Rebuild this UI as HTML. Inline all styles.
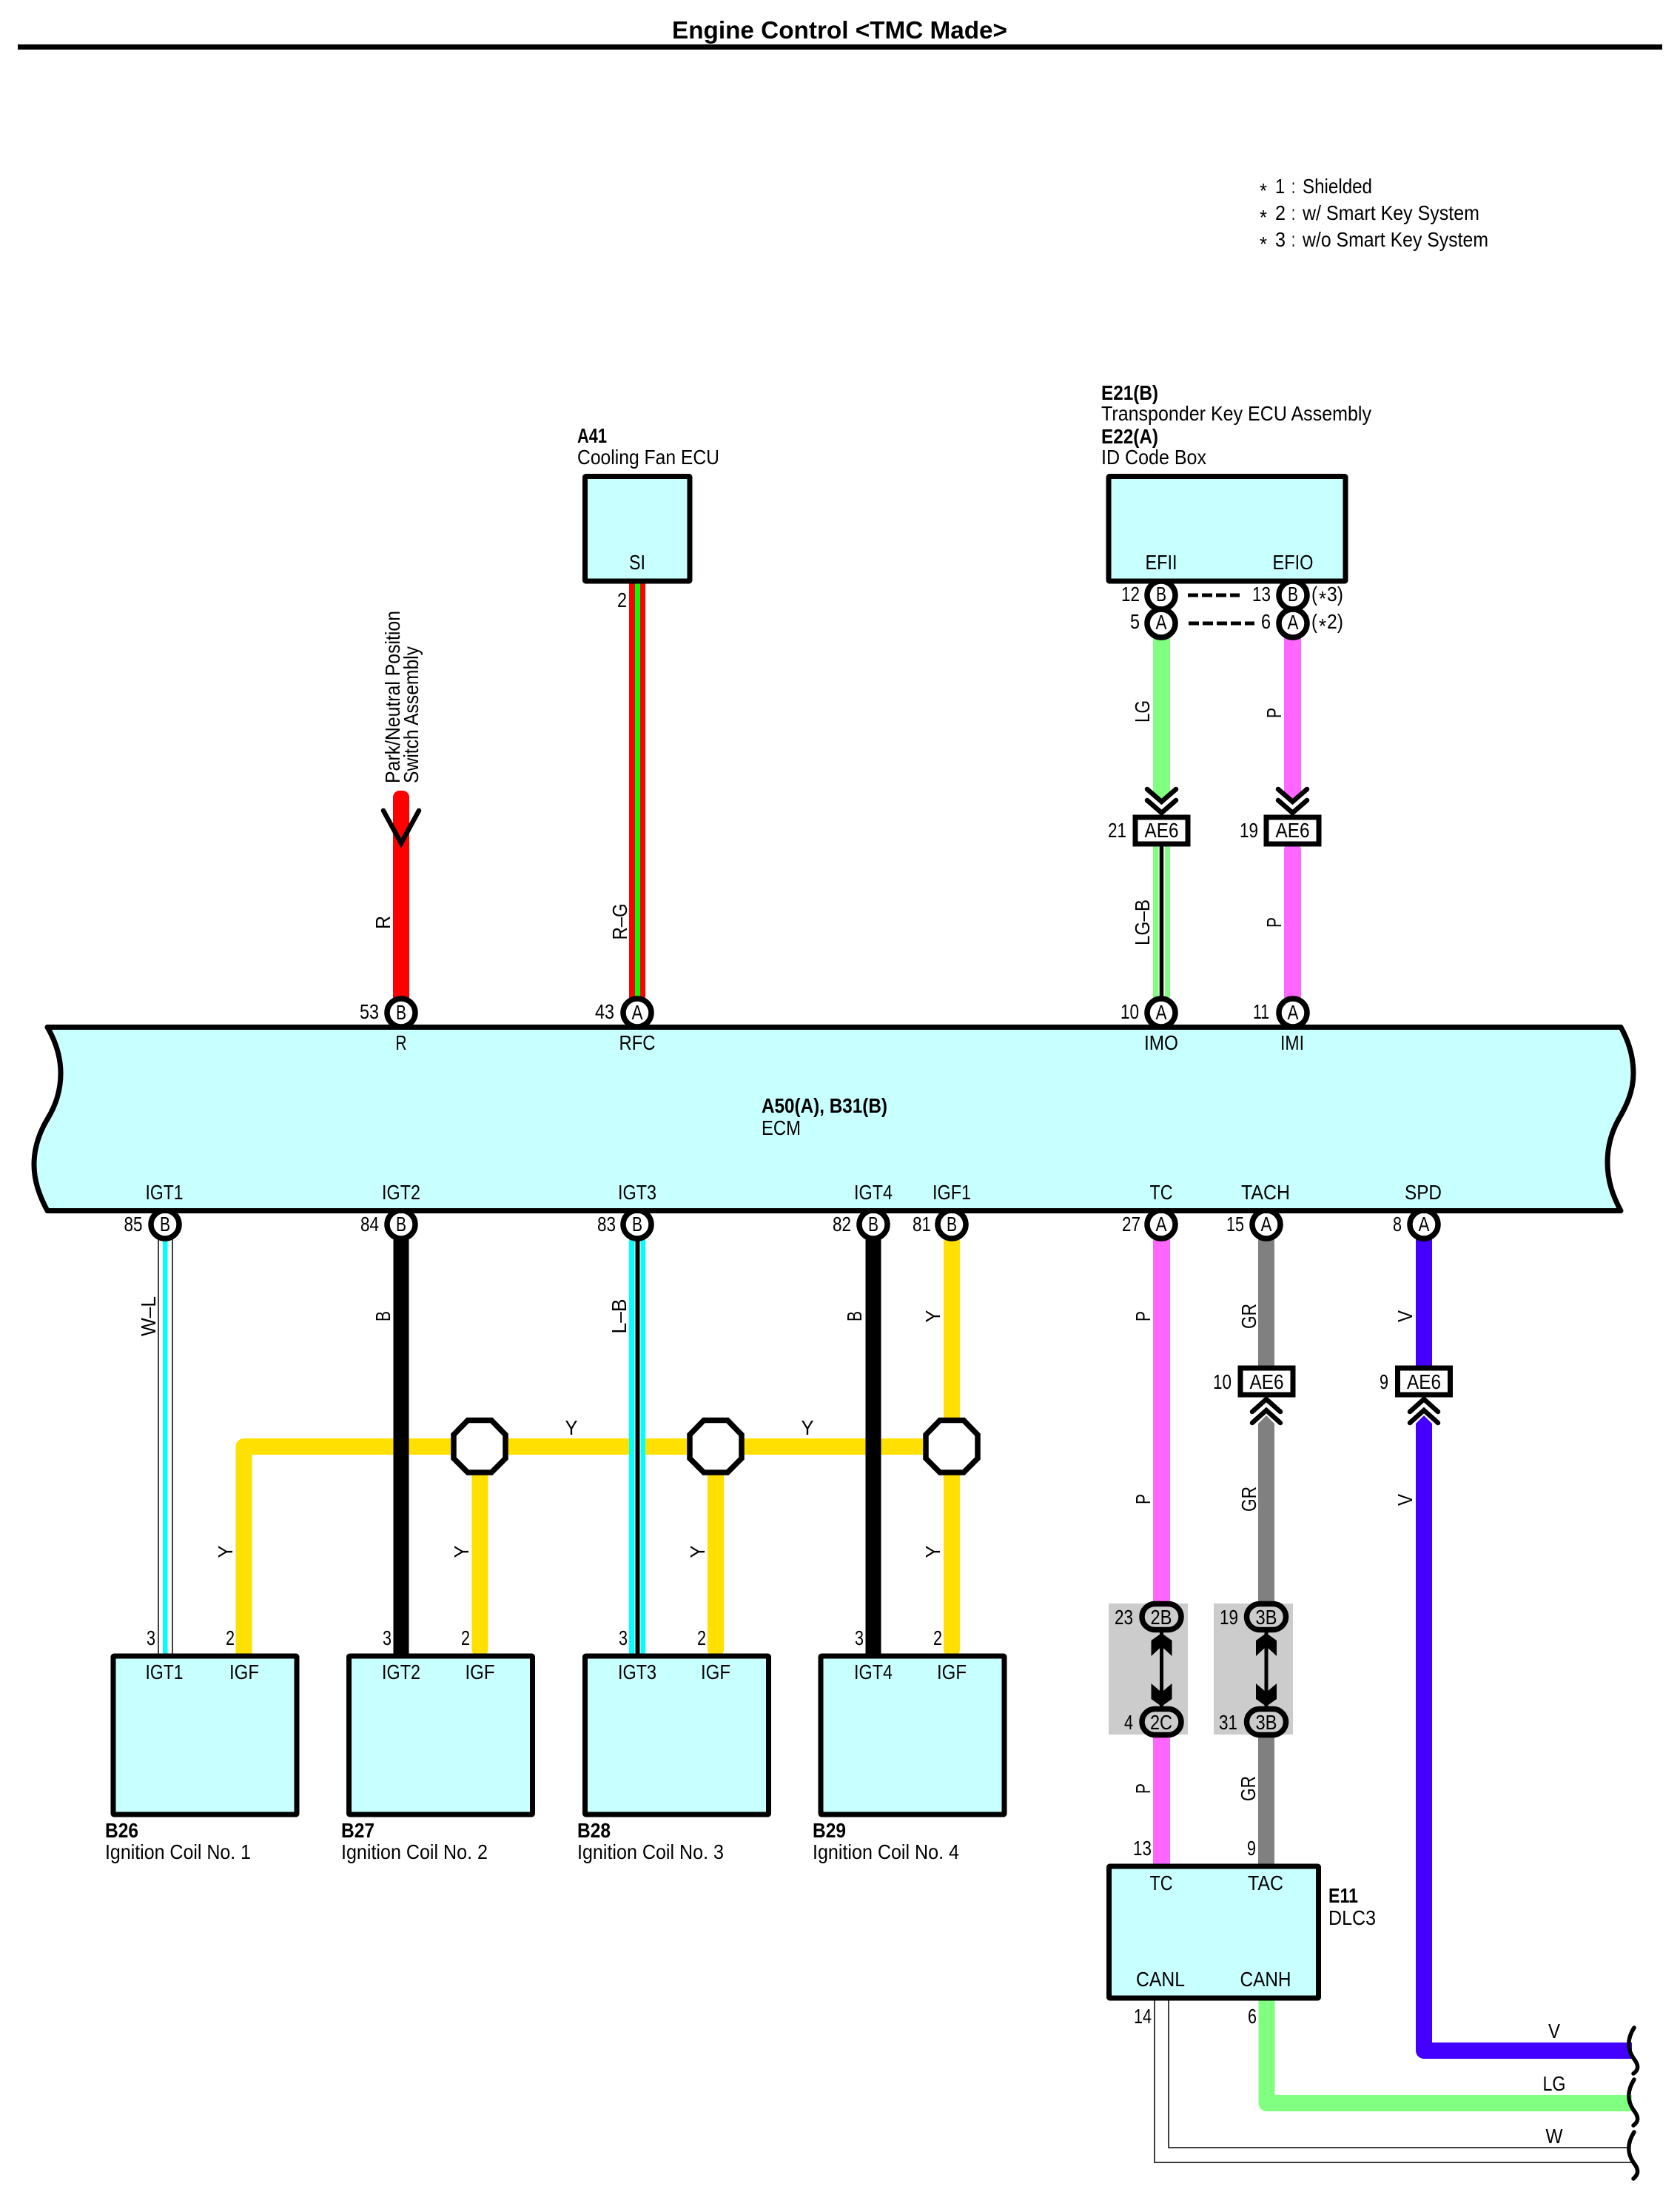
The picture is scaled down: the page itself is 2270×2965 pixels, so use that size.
<!DOCTYPE html>
<html><head><meta charset="utf-8"><title>Engine Control</title>
<style>
html,body{margin:0;padding:0;background:#fff}
svg{display:block}
text{font-family:"Liberation Sans",Arial,sans-serif;font-size:27.5px;fill:#000}
.b{font-weight:bold}
.m{text-anchor:middle}
.e{text-anchor:end}
.box{fill:#c8ffff;stroke:#000;stroke-width:7}
.c{fill:#fff;stroke:#000;stroke-width:7.5}
.w{fill:none;stroke-width:22}
.th{fill:none;stroke:#000;stroke-width:1.5}
.ch{fill:none;stroke:#000;stroke-width:6.5;stroke-linecap:round;stroke-linejoin:miter}
.sq{fill:none;stroke:#000;stroke-width:5.5;stroke-linecap:round}
</style></head><body>
<svg xmlns="http://www.w3.org/2000/svg" width="2270" height="2965" viewBox="0 0 2270 2965">
<rect width="2270" height="2965" fill="#fff"/>
<!-- title -->
<text class="b" x="908" y="52" font-size="33" style="font-size:33px" textLength="453" lengthAdjust="spacingAndGlyphs">Engine Control &lt;TMC Made&gt;</text>
<rect x="24" y="60" width="2222" height="7" fill="#000"/>
<!-- legend -->
<text x="1702" y="267" textLength="10" lengthAdjust="spacingAndGlyphs">*</text>
<text x="1723" y="261" textLength="13" lengthAdjust="spacingAndGlyphs">1</text>
<text x="1745" y="261" textLength="5" lengthAdjust="spacingAndGlyphs">:</text>
<text x="1760" y="261" textLength="94" lengthAdjust="spacingAndGlyphs">Shielded</text>
<text x="1702" y="303" textLength="10" lengthAdjust="spacingAndGlyphs">*</text>
<text x="1723" y="297" textLength="14" lengthAdjust="spacingAndGlyphs">2</text>
<text x="1745" y="297" textLength="5" lengthAdjust="spacingAndGlyphs">:</text>
<text x="1760" y="297" textLength="239" lengthAdjust="spacingAndGlyphs">w/ Smart Key System</text>
<text x="1702" y="339" textLength="10" lengthAdjust="spacingAndGlyphs">*</text>
<text x="1723" y="333" textLength="14" lengthAdjust="spacingAndGlyphs">3</text>
<text x="1745" y="333" textLength="5" lengthAdjust="spacingAndGlyphs">:</text>
<text x="1760" y="333" textLength="251" lengthAdjust="spacingAndGlyphs">w/o Smart Key System</text>

<!-- WIRES upper -->
<rect x="531" y="1068" width="22" height="290" rx="9" fill="#ff0000"/>
<rect x="850" y="788" width="22" height="570" fill="#ff0000"/>
<rect x="858" y="788" width="7" height="570" fill="#00ff00"/>
<polygon points="1558,860 1581,860 1581,1072 1569.5,1083 1558,1072" fill="#80ff80"/>
<polygon points="1735,860 1758,860 1758,1072 1746.5,1083 1735,1072" fill="#ff66ff"/>
<rect x="1558" y="1140" width="23" height="220" fill="#80ff80"/>
<rect x="1565.5" y="1140" width="8.5" height="220" fill="#fff"/>
<rect x="1566.7" y="1140" width="5.5" height="220" fill="#000"/>
<rect x="1735" y="1140" width="23" height="225" rx="8" fill="#ff66ff"/>
<!-- WIRES lower -->
<path class="w" d="M329.5 2236V1954H1260" stroke="#ffe000" style="stroke-width:22;stroke-linejoin:round"/>
<rect x="637.5" y="1985" width="22" height="250" rx="6" fill="#ffe000"/>
<rect x="956" y="1985" width="22" height="250" rx="6" fill="#ffe000"/>
<rect x="1275" y="1660" width="22" height="575" rx="6" fill="#ffe000"/>
<line class="th" x1="214" y1="1668" x2="214" y2="2236"/>
<line class="th" x1="233" y1="1668" x2="233" y2="2236"/>
<rect x="220" y="1668" width="6.5" height="568" fill="#00ffff"/>
<rect x="531.5" y="1668" width="21" height="568" fill="#000"/>
<rect x="850" y="1668" width="22" height="568" fill="#00ffff"/>
<rect x="857.5" y="1668" width="8" height="568" fill="#fff"/>
<rect x="858.5" y="1668" width="6" height="568" fill="#000"/>
<rect x="1169.5" y="1668" width="21" height="568" fill="#000"/>
<rect x="1558" y="1668" width="23" height="500" fill="#ff66ff"/>
<rect x="1558" y="2340" width="23" height="180" fill="#ff66ff"/>
<rect x="1700" y="1668" width="22" height="180" fill="#808080"/>
<polygon points="1711,1912 1722,1923 1722,2168 1700,2168 1700,1923" fill="#808080"/>
<rect x="1700" y="2340" width="22" height="180" fill="#808080"/>
<rect x="1913" y="1668" width="22" height="180" fill="#4400ff"/>
<path d="M1924 1923V2770H2205" fill="none" stroke="#4400ff" stroke-width="22" stroke-linejoin="round"/>
<polygon points="1924,1912 1935,1923 1913,1923" fill="#4400ff"/>
<path d="M1711.5 2700V2841H2205" fill="none" stroke="#80ff80" stroke-width="22" stroke-linejoin="round"/>
<path class="th" d="M1560 2702V2921H2208"/>
<path class="th" d="M1579 2702V2901H2198"/>
<!-- squiggles -->
<path class="sq" d="M2208 2739C2198 2755 2199 2768 2207 2780C2215 2790 2214 2796 2207 2801"/>
<path class="sq" d="M2208 2809C2198 2825 2199 2838 2207 2850C2215 2860 2214 2866 2207 2871"/>
<path class="sq" d="M2208 2880C2198 2896 2199 2909 2207 2921C2215 2931 2214 2937 2207 2943"/>

<!-- chevrons -->
<path class="ch" d="M518 1095L542 1139L566 1095"/>
<path class="ch" d="M1550 1066L1569.5 1083L1589 1066M1550 1081L1569.5 1098L1589 1081"/>
<path class="ch" d="M1727 1066L1746.5 1083L1766 1066M1727 1081L1746.5 1098L1766 1081"/>
<path class="ch" d="M1692 1907L1711 1890L1730 1907M1692 1922L1711 1905L1730 1922"/>
<path class="ch" d="M1905 1907L1924 1890L1943 1907M1905 1922L1924 1905L1943 1922"/>

<!-- circles upper -->
<circle class="c" cx="542" cy="1368" r="19"/>
<circle class="c" cx="861" cy="1368" r="19"/>
<circle class="c" cx="1569" cy="1368" r="19"/>
<circle class="c" cx="1747" cy="1368" r="19"/>
<circle class="c" cx="1569" cy="804" r="19"/>
<circle class="c" cx="1569" cy="842" r="19"/>
<circle class="c" cx="1747" cy="804" r="19"/>
<circle class="c" cx="1747" cy="842" r="19"/>
<!-- circles lower -->
<circle class="c" cx="223" cy="1654" r="19"/>
<circle class="c" cx="542" cy="1654" r="19"/>
<circle class="c" cx="861" cy="1654" r="19"/>
<circle class="c" cx="1180" cy="1654" r="19"/>
<circle class="c" cx="1286" cy="1654" r="19"/>
<circle class="c" cx="1569" cy="1654" r="19"/>
<circle class="c" cx="1711" cy="1654" r="19"/>
<circle class="c" cx="1924" cy="1654" r="19"/>

<!-- ECM -->
<path class="box" d="M64 1387.5H2190C2201 1407 2207 1428 2207 1450C2207 1475 2197 1495 2187 1512C2177 1530 2172 1550 2172 1570C2172 1595 2179 1615 2190 1635.5H64C53 1615 46 1595 46 1573C46 1550 54 1528 65 1510C74 1495 82 1475 82 1450C82 1430 76 1408 64 1387.5Z" style="stroke-linejoin:round"/>

<!-- component boxes -->
<rect class="box" x="790.5" y="643.5" width="141.5" height="141.5" rx="1"/>
<rect class="box" x="1498" y="643.5" width="320" height="141.5" rx="1"/>
<rect class="box" x="1498.5" y="2521" width="283" height="178" rx="1"/>
<rect class="box" x="153" y="2237" width="248" height="214" rx="1"/>
<rect class="box" x="471.5" y="2237" width="248" height="214" rx="1"/>
<rect class="box" x="790.5" y="2237" width="248" height="214" rx="1"/>
<rect class="box" x="1109" y="2237" width="248" height="214" rx="1"/>

<!-- octagons -->
<polygon class="c" points="632,1918.5 664,1918.5 683,1938 683,1970 664,1989 632,1989 613,1970 613,1938"/>
<polygon class="c" points="951,1918.5 983,1918.5 1002,1938 1002,1970 983,1989 951,1989 932,1970 932,1938"/>
<polygon class="c" points="1270,1918.5 1302,1918.5 1321,1938 1321,1970 1302,1989 1270,1989 1251,1970 1251,1938"/>

<!-- AE6 -->
<g fill="#fff" stroke="#000" stroke-width="7">
<rect x="1534" y="1104" width="71" height="36"/>
<rect x="1711" y="1104" width="71" height="36"/>
<rect x="1676" y="1848" width="71" height="36"/>
<rect x="1888.5" y="1848" width="71" height="36"/>
</g>

<!-- gray splice -->
<rect x="1498" y="2166" width="107" height="177" fill="#cccccc"/>
<rect x="1640" y="2166" width="107" height="177" fill="#cccccc"/>
<g fill="#cccccc" stroke="#000" stroke-width="7.5">
<rect x="1543" y="2166.5" width="53" height="35" rx="17.5"/>
<rect x="1543" y="2308.5" width="53" height="35" rx="17.5"/>
<rect x="1684.5" y="2166.5" width="53" height="35" rx="17.5"/>
<rect x="1684.5" y="2308.5" width="53" height="35" rx="17.5"/>
</g>
<g fill="#000">
<rect x="1567" y="2205" width="5" height="100"/>
<polygon points="1569.5,2206 1583.5,2216 1583.5,2237 1569.5,2224 1555.5,2237 1555.5,2216"/>
<polygon points="1569.5,2305 1583.5,2295 1583.5,2274 1569.5,2286 1555.5,2274 1555.5,2295"/>
<rect x="1708.5" y="2205" width="5" height="100"/>
<polygon points="1711,2206 1725,2216 1725,2237 1711,2224 1697,2237 1697,2216"/>
<polygon points="1711,2305 1725,2295 1725,2274 1711,2286 1697,2274 1697,2295"/>
</g>
<!-- dashed -->
<line x1="1605" y1="804" x2="1675" y2="804" stroke="#000" stroke-width="5" stroke-dasharray="14 5"/>
<line x1="1606" y1="842" x2="1695" y2="842" stroke="#000" stroke-width="5" stroke-dasharray="14 5"/>

<!-- TEXT: component labels -->
<text class="b" x="780" y="598" textLength="40" lengthAdjust="spacingAndGlyphs">A41</text>
<text x="780" y="627" textLength="192" lengthAdjust="spacingAndGlyphs">Cooling Fan ECU</text>
<text class="m" x="861" y="769" textLength="22" lengthAdjust="spacingAndGlyphs">SI</text>
<text class="e" x="847" y="820" textLength="13" lengthAdjust="spacingAndGlyphs">2</text>
<text class="b" x="1488" y="540" textLength="77" lengthAdjust="spacingAndGlyphs">E21(B)</text>
<text x="1488" y="568" textLength="365" lengthAdjust="spacingAndGlyphs">Transponder Key ECU Assembly</text>
<text class="b" x="1488" y="599" textLength="77" lengthAdjust="spacingAndGlyphs">E22(A)</text>
<text x="1488" y="627" textLength="142" lengthAdjust="spacingAndGlyphs">ID Code Box</text>
<text class="m" x="1569" y="769" textLength="43" lengthAdjust="spacingAndGlyphs">EFII</text>
<text class="m" x="1747" y="769" textLength="55" lengthAdjust="spacingAndGlyphs">EFIO</text>
<text class="m" x="1569" y="812" textLength="14" lengthAdjust="spacingAndGlyphs">B</text>
<text class="m" x="1569" y="850" textLength="15" lengthAdjust="spacingAndGlyphs">A</text>
<text class="m" x="1747" y="812" textLength="14" lengthAdjust="spacingAndGlyphs">B</text>
<text class="m" x="1747" y="850" textLength="15" lengthAdjust="spacingAndGlyphs">A</text>
<text class="e" x="1540" y="812" textLength="25" lengthAdjust="spacingAndGlyphs">12</text>
<text class="e" x="1540" y="849" textLength="13" lengthAdjust="spacingAndGlyphs">5</text>
<text class="e" x="1717" y="812" textLength="25" lengthAdjust="spacingAndGlyphs">13</text>
<text class="e" x="1717" y="849" textLength="13" lengthAdjust="spacingAndGlyphs">6</text>
<text x="1772" y="812" textLength="8" lengthAdjust="spacingAndGlyphs">(</text>
<text x="1782" y="818" textLength="10" lengthAdjust="spacingAndGlyphs">*</text>
<text x="1793" y="812" textLength="22" lengthAdjust="spacingAndGlyphs">3)</text>
<text x="1772" y="849" textLength="8" lengthAdjust="spacingAndGlyphs">(</text>
<text x="1782" y="855" textLength="10" lengthAdjust="spacingAndGlyphs">*</text>
<text x="1793" y="849" textLength="22" lengthAdjust="spacingAndGlyphs">2)</text>

<!-- vertical -->
<text transform="translate(540,1058) rotate(-90)" textLength="233" lengthAdjust="spacingAndGlyphs">Park/Neutral Position</text>
<text transform="translate(565,1058) rotate(-90)" textLength="185" lengthAdjust="spacingAndGlyphs">Switch Assembly</text>
<text class="m" transform="translate(527,1246) rotate(-90)" textLength="18" lengthAdjust="spacingAndGlyphs">R</text>
<text class="m" transform="translate(847,1245) rotate(-90)" textLength="49" lengthAdjust="spacingAndGlyphs">R–G</text>
<text class="m" transform="translate(1553,961) rotate(-90)" textLength="30" lengthAdjust="spacingAndGlyphs">LG</text>
<text class="m" transform="translate(1731,963) rotate(-90)" textLength="14" lengthAdjust="spacingAndGlyphs">P</text>
<text class="m" transform="translate(1553,1246) rotate(-90)" textLength="62" lengthAdjust="spacingAndGlyphs">LG–B</text>
<text class="m" transform="translate(1731,1246) rotate(-90)" textLength="14" lengthAdjust="spacingAndGlyphs">P</text>

<text class="m" transform="translate(210,1778) rotate(-90)" textLength="54" lengthAdjust="spacingAndGlyphs">W–L</text>
<text class="m" transform="translate(527,1778) rotate(-90)" textLength="14" lengthAdjust="spacingAndGlyphs">B</text>
<text class="m" transform="translate(846,1778) rotate(-90)" textLength="47" lengthAdjust="spacingAndGlyphs">L–B</text>
<text class="m" transform="translate(1164,1778) rotate(-90)" textLength="14" lengthAdjust="spacingAndGlyphs">B</text>
<text class="m" transform="translate(1270,1778) rotate(-90)" textLength="17" lengthAdjust="spacingAndGlyphs">Y</text>
<text class="m" transform="translate(1554,1778) rotate(-90)" textLength="14" lengthAdjust="spacingAndGlyphs">P</text>
<text class="m" transform="translate(1697,1778) rotate(-90)" textLength="34" lengthAdjust="spacingAndGlyphs">GR</text>
<text class="m" transform="translate(1908,1778) rotate(-90)" textLength="16" lengthAdjust="spacingAndGlyphs">V</text>
<text class="m" transform="translate(1554,2025) rotate(-90)" textLength="14" lengthAdjust="spacingAndGlyphs">P</text>
<text class="m" transform="translate(1697,2025) rotate(-90)" textLength="34" lengthAdjust="spacingAndGlyphs">GR</text>
<text class="m" transform="translate(1908,2026) rotate(-90)" textLength="16" lengthAdjust="spacingAndGlyphs">V</text>
<text class="m" transform="translate(314,2096) rotate(-90)" textLength="17" lengthAdjust="spacingAndGlyphs">Y</text>
<text class="m" transform="translate(633,2096) rotate(-90)" textLength="17" lengthAdjust="spacingAndGlyphs">Y</text>
<text class="m" transform="translate(952,2096) rotate(-90)" textLength="17" lengthAdjust="spacingAndGlyphs">Y</text>
<text class="m" transform="translate(1270,2096) rotate(-90)" textLength="17" lengthAdjust="spacingAndGlyphs">Y</text>
<text class="m" transform="translate(1554,2416) rotate(-90)" textLength="14" lengthAdjust="spacingAndGlyphs">P</text>
<text class="m" transform="translate(1696,2416) rotate(-90)" textLength="34" lengthAdjust="spacingAndGlyphs">GR</text>

<text class="m" x="772" y="1938" textLength="17" lengthAdjust="spacingAndGlyphs">Y</text>
<text class="m" x="1091" y="1938" textLength="17" lengthAdjust="spacingAndGlyphs">Y</text>

<!-- ECM top pins -->
<text class="e" x="512" y="1376" textLength="26" lengthAdjust="spacingAndGlyphs">53</text>
<text class="m" x="542" y="1377" textLength="14" lengthAdjust="spacingAndGlyphs">B</text>
<text class="m" x="542" y="1418" textLength="15" lengthAdjust="spacingAndGlyphs">R</text>
<text class="e" x="830" y="1376" textLength="26" lengthAdjust="spacingAndGlyphs">43</text>
<text class="m" x="861" y="1377" textLength="15" lengthAdjust="spacingAndGlyphs">A</text>
<text class="m" x="861" y="1418" textLength="49" lengthAdjust="spacingAndGlyphs">RFC</text>
<text class="e" x="1539" y="1376" textLength="25" lengthAdjust="spacingAndGlyphs">10</text>
<text class="m" x="1569" y="1377" textLength="15" lengthAdjust="spacingAndGlyphs">A</text>
<text class="m" x="1569" y="1418" textLength="46" lengthAdjust="spacingAndGlyphs">IMO</text>
<text class="e" x="1715" y="1376" textLength="22" lengthAdjust="spacingAndGlyphs">11</text>
<text class="m" x="1747" y="1377" textLength="15" lengthAdjust="spacingAndGlyphs">A</text>
<text class="m" x="1746" y="1418" textLength="32" lengthAdjust="spacingAndGlyphs">IMI</text>
<text class="b" x="1029" y="1503" textLength="170" lengthAdjust="spacingAndGlyphs">A50(A), B31(B)</text>
<text x="1029" y="1533" textLength="53" lengthAdjust="spacingAndGlyphs">ECM</text>

<!-- ECM bottom pins -->
<text class="m" x="222" y="1620" textLength="51" lengthAdjust="spacingAndGlyphs">IGT1</text>
<text class="m" x="542" y="1620" textLength="52" lengthAdjust="spacingAndGlyphs">IGT2</text>
<text class="m" x="861" y="1620" textLength="52" lengthAdjust="spacingAndGlyphs">IGT3</text>
<text class="m" x="1180" y="1620" textLength="52" lengthAdjust="spacingAndGlyphs">IGT4</text>
<text class="m" x="1286" y="1620" textLength="52" lengthAdjust="spacingAndGlyphs">IGF1</text>
<text class="m" x="1569" y="1620" textLength="31" lengthAdjust="spacingAndGlyphs">TC</text>
<text class="m" x="1710" y="1620" textLength="66" lengthAdjust="spacingAndGlyphs">TACH</text>
<text class="m" x="1923" y="1620" textLength="50" lengthAdjust="spacingAndGlyphs">SPD</text>
<text class="e" x="192.5" y="1663" textLength="25" lengthAdjust="spacingAndGlyphs">85</text>
<text class="e" x="512" y="1663" textLength="25" lengthAdjust="spacingAndGlyphs">84</text>
<text class="e" x="832" y="1663" textLength="25" lengthAdjust="spacingAndGlyphs">83</text>
<text class="e" x="1150" y="1663" textLength="25" lengthAdjust="spacingAndGlyphs">82</text>
<text class="e" x="1258" y="1663" textLength="25" lengthAdjust="spacingAndGlyphs">81</text>
<text class="e" x="1541" y="1663" textLength="25" lengthAdjust="spacingAndGlyphs">27</text>
<text class="e" x="1681" y="1663" textLength="24" lengthAdjust="spacingAndGlyphs">15</text>
<text class="e" x="1894" y="1663" textLength="12" lengthAdjust="spacingAndGlyphs">8</text>
<text class="m" x="223" y="1663" textLength="14" lengthAdjust="spacingAndGlyphs">B</text>
<text class="m" x="542" y="1663" textLength="14" lengthAdjust="spacingAndGlyphs">B</text>
<text class="m" x="861" y="1663" textLength="14" lengthAdjust="spacingAndGlyphs">B</text>
<text class="m" x="1180" y="1663" textLength="14" lengthAdjust="spacingAndGlyphs">B</text>
<text class="m" x="1286" y="1663" textLength="14" lengthAdjust="spacingAndGlyphs">B</text>
<text class="m" x="1569" y="1663" textLength="15" lengthAdjust="spacingAndGlyphs">A</text>
<text class="m" x="1711" y="1663" textLength="15" lengthAdjust="spacingAndGlyphs">A</text>
<text class="m" x="1924" y="1663" textLength="15" lengthAdjust="spacingAndGlyphs">A</text>

<!-- AE6 labels -->
<text class="m" x="1569.5" y="1131" textLength="46" lengthAdjust="spacingAndGlyphs">AE6</text>
<text class="m" x="1746.5" y="1131" textLength="46" lengthAdjust="spacingAndGlyphs">AE6</text>
<text class="m" x="1711.5" y="1876" textLength="46" lengthAdjust="spacingAndGlyphs">AE6</text>
<text class="m" x="1924" y="1876" textLength="46" lengthAdjust="spacingAndGlyphs">AE6</text>
<text class="e" x="1522" y="1131" textLength="25" lengthAdjust="spacingAndGlyphs">21</text>
<text class="e" x="1700" y="1131" textLength="25" lengthAdjust="spacingAndGlyphs">19</text>
<text class="e" x="1664" y="1876" textLength="25" lengthAdjust="spacingAndGlyphs">10</text>
<text class="e" x="1876" y="1876" textLength="12" lengthAdjust="spacingAndGlyphs">9</text>

<!-- splice labels -->
<text class="m" x="1569" y="2194" textLength="29" lengthAdjust="spacingAndGlyphs">2B</text>
<text class="m" x="1569" y="2336" textLength="30" lengthAdjust="spacingAndGlyphs">2C</text>
<text class="m" x="1711" y="2194" textLength="29" lengthAdjust="spacingAndGlyphs">3B</text>
<text class="m" x="1711" y="2336" textLength="29" lengthAdjust="spacingAndGlyphs">3B</text>
<text class="e" x="1531" y="2194" textLength="25" lengthAdjust="spacingAndGlyphs">23</text>
<text class="e" x="1531" y="2336" textLength="12" lengthAdjust="spacingAndGlyphs">4</text>
<text class="e" x="1673" y="2194" textLength="25" lengthAdjust="spacingAndGlyphs">19</text>
<text class="e" x="1672" y="2336" textLength="25" lengthAdjust="spacingAndGlyphs">31</text>

<!-- coils -->
<text class="e" x="210" y="2222" textLength="12" lengthAdjust="spacingAndGlyphs">3</text>
<text class="e" x="317" y="2222" textLength="12" lengthAdjust="spacingAndGlyphs">2</text>
<text class="e" x="529" y="2222" textLength="12" lengthAdjust="spacingAndGlyphs">3</text>
<text class="e" x="635" y="2222" textLength="12" lengthAdjust="spacingAndGlyphs">2</text>
<text class="e" x="848" y="2222" textLength="12" lengthAdjust="spacingAndGlyphs">3</text>
<text class="e" x="954" y="2222" textLength="12" lengthAdjust="spacingAndGlyphs">2</text>
<text class="e" x="1167" y="2222" textLength="12" lengthAdjust="spacingAndGlyphs">3</text>
<text class="e" x="1273" y="2222" textLength="12" lengthAdjust="spacingAndGlyphs">2</text>
<text class="m" x="222" y="2268" textLength="51" lengthAdjust="spacingAndGlyphs">IGT1</text>
<text class="m" x="330" y="2268" textLength="40" lengthAdjust="spacingAndGlyphs">IGF</text>
<text class="m" x="542" y="2268" textLength="52" lengthAdjust="spacingAndGlyphs">IGT2</text>
<text class="m" x="648.5" y="2268" textLength="40" lengthAdjust="spacingAndGlyphs">IGF</text>
<text class="m" x="861" y="2268" textLength="52" lengthAdjust="spacingAndGlyphs">IGT3</text>
<text class="m" x="967" y="2268" textLength="40" lengthAdjust="spacingAndGlyphs">IGF</text>
<text class="m" x="1180" y="2268" textLength="52" lengthAdjust="spacingAndGlyphs">IGT4</text>
<text class="m" x="1286" y="2268" textLength="40" lengthAdjust="spacingAndGlyphs">IGF</text>
<text class="b" x="142" y="2482" textLength="45" lengthAdjust="spacingAndGlyphs">B26</text>
<text x="142" y="2511" textLength="197" lengthAdjust="spacingAndGlyphs">Ignition Coil No. 1</text>
<text class="b" x="461" y="2482" textLength="45" lengthAdjust="spacingAndGlyphs">B27</text>
<text x="461" y="2511" textLength="198" lengthAdjust="spacingAndGlyphs">Ignition Coil No. 2</text>
<text class="b" x="780" y="2482" textLength="45" lengthAdjust="spacingAndGlyphs">B28</text>
<text x="780" y="2511" textLength="198" lengthAdjust="spacingAndGlyphs">Ignition Coil No. 3</text>
<text class="b" x="1098" y="2482" textLength="45" lengthAdjust="spacingAndGlyphs">B29</text>
<text x="1098" y="2511" textLength="198" lengthAdjust="spacingAndGlyphs">Ignition Coil No. 4</text>

<!-- DLC3 -->
<text class="e" x="1556" y="2506" textLength="25" lengthAdjust="spacingAndGlyphs">13</text>
<text class="e" x="1697" y="2506" textLength="12" lengthAdjust="spacingAndGlyphs">9</text>
<text class="m" x="1569" y="2553" textLength="31" lengthAdjust="spacingAndGlyphs">TC</text>
<text class="m" x="1710" y="2553" textLength="48" lengthAdjust="spacingAndGlyphs">TAC</text>
<text class="m" x="1568" y="2683" textLength="66" lengthAdjust="spacingAndGlyphs">CANL</text>
<text class="m" x="1710" y="2683" textLength="69" lengthAdjust="spacingAndGlyphs">CANH</text>
<text class="b" x="1795" y="2570" textLength="40" lengthAdjust="spacingAndGlyphs">E11</text>
<text x="1795" y="2600" textLength="64" lengthAdjust="spacingAndGlyphs">DLC3</text>
<text class="e" x="1556" y="2733" textLength="24" lengthAdjust="spacingAndGlyphs">14</text>
<text class="e" x="1698" y="2733" textLength="12" lengthAdjust="spacingAndGlyphs">6</text>
<text class="m" x="2100" y="2753" textLength="16" lengthAdjust="spacingAndGlyphs">V</text>
<text class="m" x="2100" y="2824" textLength="31" lengthAdjust="spacingAndGlyphs">LG</text>
<text class="m" x="2100" y="2895" textLength="23" lengthAdjust="spacingAndGlyphs">W</text>
</svg>
</body></html>
